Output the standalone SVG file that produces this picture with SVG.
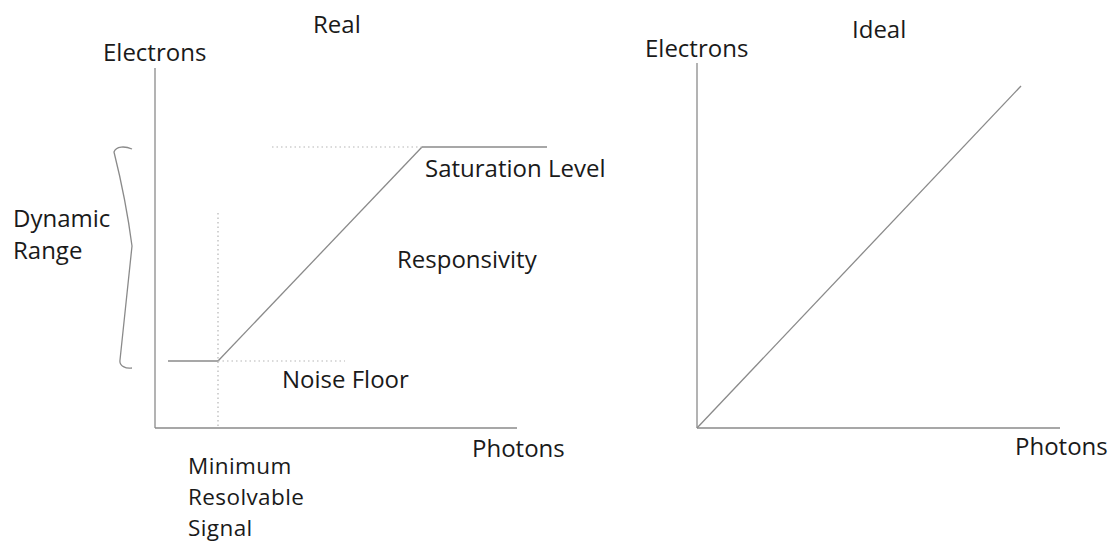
<svg xmlns="http://www.w3.org/2000/svg" width="1110" height="544" viewBox="0 0 1110 544">
<style>
text{font-family:"Open Sans","Noto Sans",sans-serif;font-size:24px;fill:#1a1a1a}
.ax{stroke:#8a8a8a;stroke-width:1.3;fill:none}
.dot{stroke:#b5b5b5;stroke-width:1.2;stroke-dasharray:1.5 3;fill:none}
.sm{font-size:22.5px;letter-spacing:0.4px}
</style>
<rect width="1110" height="544" fill="#fff"/>
<g id="connectors">
<line class="ax" x1="155" y1="68" x2="155" y2="428"/>
<line class="ax" x1="155" y1="428" x2="517" y2="428"/>
<line class="ax" x1="168" y1="361" x2="218" y2="361"/>
<line class="ax" x1="218" y1="361" x2="422" y2="147"/>
<line class="ax" x1="422" y1="147" x2="547" y2="147"/>
<line class="dot" x1="272" y1="147" x2="422" y2="147"/>
<line class="dot" x1="218" y1="361" x2="345" y2="361"/>
<line class="dot" x1="218" y1="213" x2="218" y2="428"/>
<path class="ax" d="M132,149 C125,146 116,146 114,152 Q126,200 132,246 L120,360 C119,366 126,369 132,368"/>
<line class="ax" x1="697" y1="63" x2="697" y2="428"/>
<line class="ax" x1="697" y1="428" x2="1060" y2="428"/>
<line class="ax" x1="697" y1="428" x2="1021" y2="86"/>
</g>
<g id="title-real"><text x="313" y="33">Real</text></g>
<g id="title-ideal"><text x="852" y="38">Ideal</text></g>
<g id="electrons-left"><text x="103" y="61">Electrons</text></g>
<g id="electrons-right"><text x="645" y="57">Electrons</text></g>
<g id="saturation"><text x="425" y="177">Saturation Level</text></g>
<g id="responsivity"><text x="397" y="268">Responsivity</text></g>
<g id="dynamic-range"><text x="13" y="227">Dynamic<tspan x="13" y="259">Range</tspan></text></g>
<g id="noise-floor"><text x="282" y="388">Noise Floor</text></g>
<g id="photons-left"><text x="472" y="457">Photons</text></g>
<g id="photons-right"><text x="1015" y="455">Photons</text></g>
<g id="mrs"><text class="sm" x="188" y="474">Minimum</text><text class="sm" x="188" y="505">Resolvable</text><text class="sm" x="188" y="536">Signal</text></g>
</svg>
